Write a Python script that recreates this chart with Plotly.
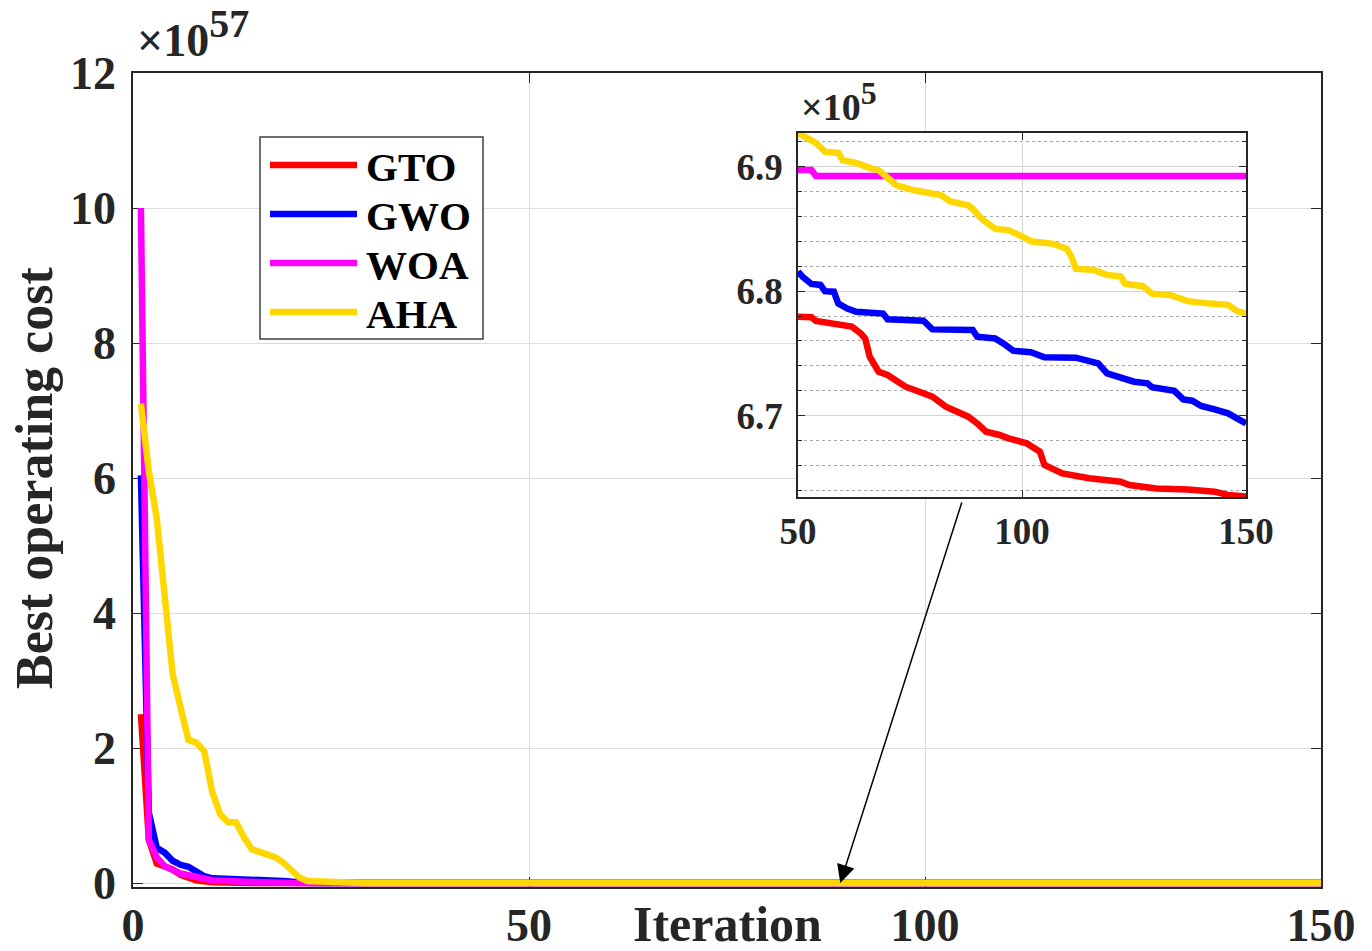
import plotly.graph_objects as go

FONT = "Liberation Serif"

# ---------------- main chart data (values in units of 1e57) ----------------
gto_it = [1, 2, 3, 4, 5, 6, 8, 10, 15, 150]
gto_val = [2.5, 0.64, 0.29, 0.24, 0.20, 0.12, 0.04, 0.01, 0.0, 0.0]

gwo_it = [1, 2, 3, 4, 5, 6, 7, 8, 9, 10, 15, 19, 22, 150]
gwo_val = [6.04, 1.04, 0.52, 0.45, 0.33, 0.27, 0.24, 0.18, 0.10, 0.07, 0.06, 0.03, 0.0, 0.0]

woa_it = [1, 2, 3, 4, 6, 8, 10, 14, 20, 150]
woa_val = [10.0, 0.64, 0.38, 0.25, 0.14, 0.08, 0.04, 0.02, 0.0, 0.0]

aha_it = [1, 2, 3, 4, 5, 6, 7, 8, 9, 10, 11, 12, 13, 14, 15, 17, 18, 19, 20, 21, 22, 28, 29, 150]
aha_val = [7.1, 6.1, 5.4, 4.3, 3.1, 2.6, 2.12, 2.08, 1.95, 1.35, 1.02, 0.9, 0.9, 0.68, 0.5,
           0.42, 0.38, 0.3, 0.2, 0.08, 0.03, 0.01, 0.0, 0.0]

# ---------------- inset data (values in units of 1e5) ----------------
gto_in_it = [50, 53, 54, 59, 62, 64, 65, 66, 68, 70, 73, 74, 76, 80, 83, 88, 90, 92, 95, 97,
             101, 104, 105, 109, 115, 122, 124, 130, 137, 143, 146, 150]
gto_in_val = [6.7795, 6.779, 6.776, 6.774, 6.7715, 6.766, 6.762, 6.7474, 6.7353, 6.7327, 6.726,
              6.7233, 6.7206, 6.7153, 6.7072, 6.6992, 6.6938, 6.6871, 6.6845, 6.6818, 6.6778,
              6.6711, 6.6604, 6.6537, 6.6497, 6.647, 6.6443, 6.6416, 6.6408, 6.639, 6.6363, 6.635]

gwo_in_it = [50, 51, 53, 55, 56, 58, 59, 61, 63, 69, 70, 78, 80, 89, 90, 94, 96, 98, 102, 105,
             112, 117, 119, 122, 125, 128, 129, 134, 136, 138, 140, 143, 146, 150]
gwo_in_val = [6.8157, 6.8116, 6.8058, 6.805, 6.800, 6.7996, 6.790, 6.786, 6.7835, 6.782, 6.7774,
              6.7763, 6.7693, 6.7688, 6.7634, 6.762, 6.7576, 6.7522, 6.7509, 6.7469, 6.7466,
              6.742, 6.734, 6.7313, 6.7273, 6.726, 6.7228, 6.720, 6.7131, 6.712, 6.7078, 6.705,
              6.7019, 6.6938]

woa_in_it = [50, 53, 54, 150]
woa_in_val = [6.8973, 6.8973, 6.8925, 6.8925]

aha_in_it = [50, 54, 56, 59, 60, 63, 66, 68, 70, 72, 76, 79, 82, 84, 88, 89, 91, 94, 97, 100,
             102, 107, 110, 111, 112, 116, 119, 122, 123, 127, 129, 133, 137, 142, 146, 148, 150]
aha_in_val = [6.927, 6.919, 6.912, 6.911, 6.905, 6.903, 6.899, 6.897, 6.891, 6.885, 6.881, 6.879,
              6.877, 6.872, 6.869, 6.866, 6.858, 6.850, 6.849, 6.844, 6.840, 6.838, 6.834, 6.828,
              6.818, 6.817, 6.813, 6.812, 6.806, 6.804, 6.798, 6.797, 6.792, 6.790, 6.789, 6.784,
              6.782]

names = ["GTO", "GWO", "WOA", "AHA"]
colors = ["#FF0000", "#0000FF", "#FF00FF", "#FFD700"]

main_x_ticks = [0, 50, 100, 150]
main_y_ticks = [0, 2, 4, 6, 8, 10, 12]
inset_x_ticks = [50, 100, 150]

main_series = [(gto_it, gto_val), (gwo_it, gwo_val), (woa_it, woa_val), (aha_it, aha_val)]
inset_series = [(gto_in_it, gto_in_val), (gwo_in_it, gwo_in_val),
                (woa_in_it, woa_in_val), (aha_in_it, aha_in_val)]

LW = 6.5

fig = go.Figure()
for name, col, (xs, ys) in zip(names, colors, main_series):
    fig.add_trace(go.Scatter(x=xs, y=ys, mode="lines", name=name, showlegend=False,
                             line=dict(color=col, width=LW), xaxis="x", yaxis="y"))
for name, col, (xs, ys) in zip(names, colors, inset_series):
    fig.add_trace(go.Scatter(x=xs, y=ys, mode="lines", name=name, showlegend=False,
                             line=dict(color=col, width=LW), xaxis="x2", yaxis="y2"))

W, H = 1372, 951
L, R, T, B = 133, 51, 73, 64
pw = W - L - R
ph = H - T - B
PLOT_BOTTOM = H - B
ZERO_PX = 883  # pixel row of value 0 on the main y axis
y_lo = -(PLOT_BOTTOM - ZERO_PX) * 12.0 / (ZERO_PX - T)


def px_x(p):
    return (p - L) / pw


def px_y(p):
    return (PLOT_BOTTOM - p) / ph


axis_common = dict(showline=True, linecolor="#262626", linewidth=1.5, mirror="ticks",
                   ticks="inside", tickcolor="#262626", zeroline=False, automargin=False)

fig.update_layout(
    width=W, height=H,
    margin=dict(l=L, r=R, t=T, b=B, autoexpand=False),
    plot_bgcolor="white", paper_bgcolor="white",
    font=dict(family=FONT, color="#262626"),
    showlegend=False,
    xaxis=dict(range=[0, 150], tickvals=main_x_ticks, ticklen=10,
               showgrid=True, gridcolor="#DCDCDC", gridwidth=1, layer="below traces",
               tickfont=dict(family=FONT, size=46, weight="bold", color="#262626"),
               ticklabelstandoff=-3, **axis_common),
    yaxis=dict(range=[y_lo, 12], tickvals=main_y_ticks, ticklen=10,
               showgrid=True, gridcolor="#DCDCDC", gridwidth=1, layer="below traces",
               tickfont=dict(family=FONT, size=46, weight="bold", color="#262626"),
               ticklabelstandoff=6, **axis_common),
    xaxis2=dict(domain=[px_x(798), px_x(1246)], anchor="y2", range=[50, 150],
                tickvals=inset_x_ticks, ticklen=7,
                showgrid=True, gridcolor="#D4D4D4", gridwidth=1,
                tickfont=dict(family=FONT, size=37, weight="bold", color="#262626"),
                ticklabelstandoff=1, **axis_common),
    yaxis2=dict(domain=[px_y(497), px_y(133)], anchor="x2", range=[6.6347, 6.927],
                tick0=6.7, dtick=0.1, tickformat=".1f", ticklen=7,
                showgrid=True, gridcolor="#D4D4D4", gridwidth=1,
                minor=dict(dtick=0.02, tick0=6.7, showgrid=True, griddash="dot",
                           gridcolor="#A8A8A8", gridwidth=1, ticks="inside", ticklen=4,
                           tickcolor="#262626"),
                tickfont=dict(family=FONT, size=37, weight="bold", color="#262626"),
                ticklabelstandoff=6, **axis_common),
)

# ---- legend drawn as a box with line samples and labels ----
shapes = [dict(type="rect", xref="paper", yref="paper",
               x0=px_x(260), x1=px_x(483), y0=px_y(339), y1=px_y(137),
               line=dict(color="#404040", width=1.5), fillcolor="white", layer="above")]
annotations = []
row_y = [165, 214, 263, 312]
for name, col, ry in zip(names, colors, row_y):
    shapes.append(dict(type="line", xref="paper", yref="paper",
                       x0=px_x(270), x1=px_x(357), y0=px_y(ry), y1=px_y(ry),
                       line=dict(color=col, width=LW), layer="above"))
    annotations.append(dict(text=name, xref="paper", yref="paper", x=px_x(364), y=px_y(ry + 2),
                            xanchor="left", yanchor="middle", showarrow=False,
                            font=dict(family=FONT, size=41, weight="bold", color="black")))

annotations += [
    dict(text="Iteration", xref="paper", yref="paper", x=px_x(727), y=px_y(924),
         xanchor="center", yanchor="middle", showarrow=False,
         font=dict(family=FONT, size=50, weight="bold", color="#262626")),
    dict(text="Best operating cost", xref="paper", yref="paper", x=px_x(34), y=px_y(478),
         xanchor="center", yanchor="middle", textangle=-90, showarrow=False,
         font=dict(family=FONT, size=52, weight="bold", color="#262626")),
    dict(text="×10<sup><span style='font-size:40px'>57</span></sup>", xref="paper", yref="paper",
         x=px_x(135), y=px_y(68), xanchor="left", yanchor="bottom", showarrow=False,
         font=dict(family=FONT, size=46, weight="bold", color="#262626")),
    dict(text="×10<sup><span style='font-size:32px'>5</span></sup>", xref="paper", yref="paper",
         x=px_x(799), y=px_y(130), xanchor="left", yanchor="bottom", showarrow=False,
         font=dict(family=FONT, size=38, weight="bold", color="#262626")),
    dict(text="", x=89.3, y=0, xref="x", yref="y", showarrow=True,
         ax=122, ay=-382, axref="pixel", ayref="pixel",
         arrowhead=2, arrowsize=2.4, arrowwidth=1.5, arrowcolor="black", standoff=0),
]
fig.update_layout(shapes=shapes, annotations=annotations)

fig.write_html("out.html")
